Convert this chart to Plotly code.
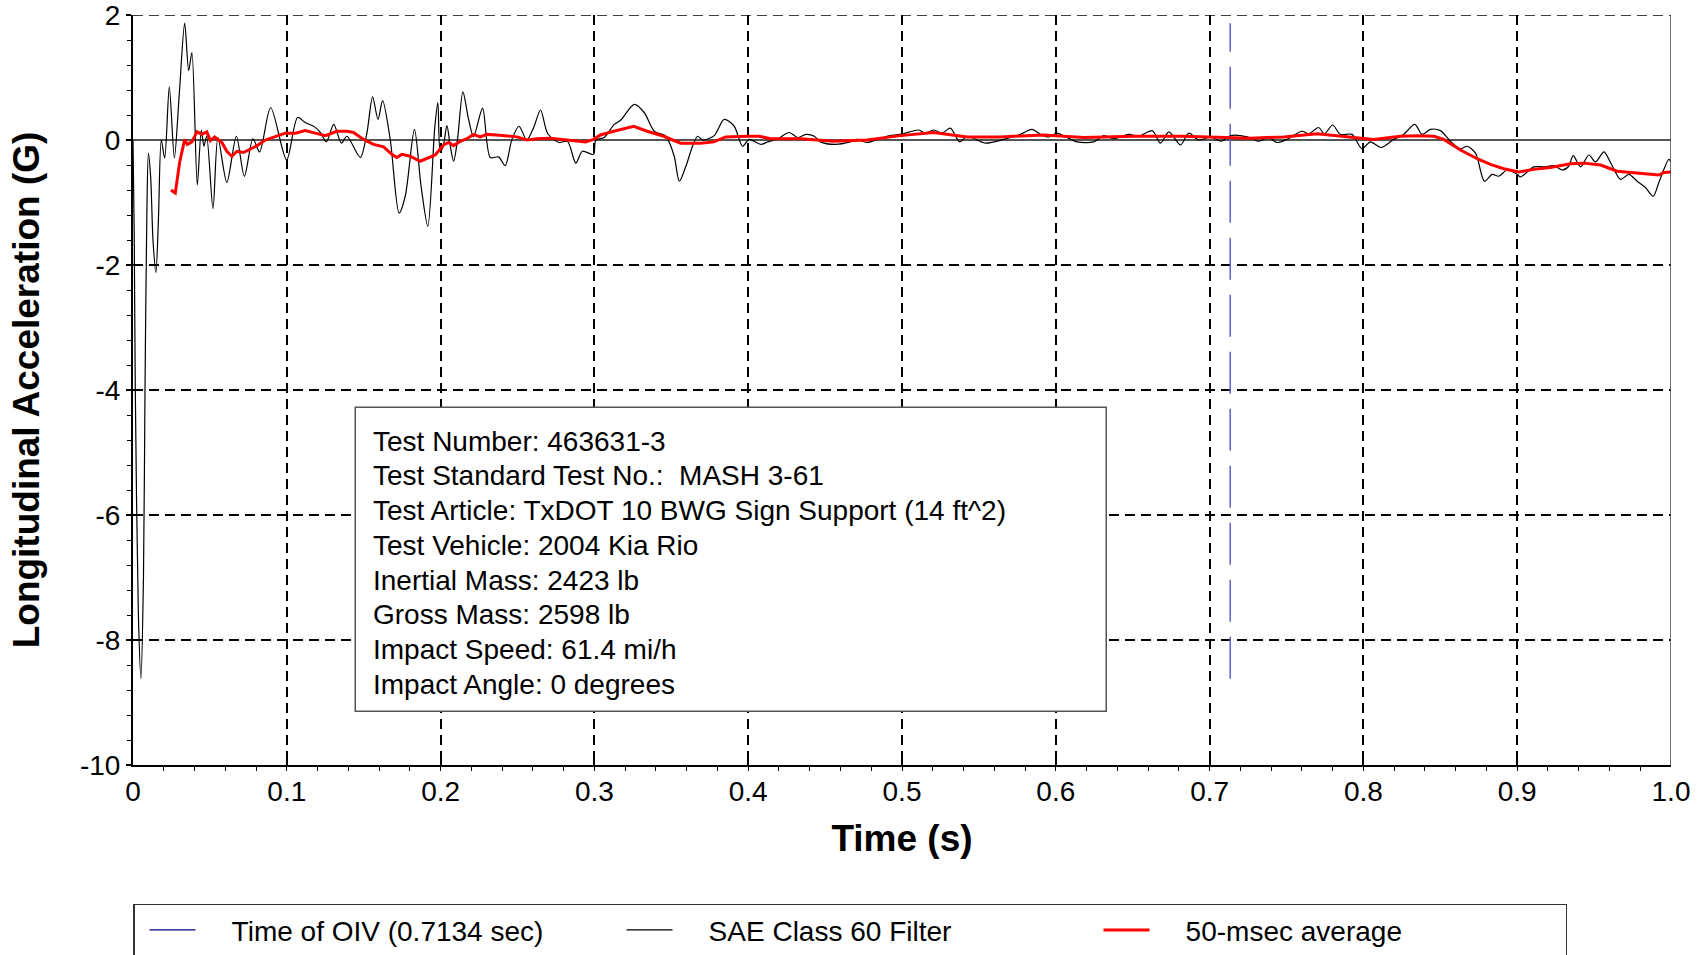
import plotly.graph_objects as go

# ---------------- data ----------------
black_t = [0.0000, 0.0008, 0.0015, 0.0035, 0.0052, 0.0068, 0.0078, 0.0090, 0.0100, 0.0115,
           0.0130, 0.0149, 0.0165, 0.0184, 0.0206, 0.0236, 0.0269, 0.0300, 0.0336, 0.0362,
           0.0383, 0.0418, 0.0444, 0.0461, 0.0479, 0.0520, 0.0552, 0.0610, 0.0672, 0.0724,
           0.0780, 0.0823, 0.0895, 0.0999, 0.1070, 0.1120, 0.1180, 0.1218, 0.1257, 0.1305,
           0.1355, 0.1391, 0.1478, 0.1520, 0.1558, 0.1593, 0.1623, 0.1673, 0.1730, 0.1770,
           0.1830, 0.1873, 0.1917, 0.1962, 0.1982, 0.1998, 0.2015, 0.2041, 0.2063, 0.2085,
           0.2110, 0.2145, 0.2182, 0.2214, 0.2273, 0.2323, 0.2377, 0.2420, 0.2464, 0.2510,
           0.2560, 0.2605, 0.2650, 0.2697, 0.2770, 0.2825, 0.2879, 0.2922, 0.2994, 0.3009,
           0.3064, 0.3129, 0.3172, 0.3259, 0.3324, 0.3389, 0.3465, 0.3519, 0.3552, 0.3595,
           0.3638, 0.3671, 0.3703, 0.3779, 0.3844, 0.3909, 0.3963, 0.4007, 0.4083, 0.4126,
           0.4191, 0.4267, 0.4321, 0.4375, 0.4430, 0.4469, 0.4566, 0.4664, 0.4707, 0.4772,
           0.4902, 0.4989, 0.5108, 0.5152, 0.5206, 0.5260, 0.5314, 0.5375, 0.5423, 0.5542,
           0.5661, 0.5769, 0.5845, 0.5900, 0.5954, 0.6008, 0.6073, 0.6138, 0.6247, 0.6312,
           0.6377, 0.6474, 0.6540, 0.6627, 0.6681, 0.6735, 0.6811, 0.6865, 0.6930, 0.7006,
           0.7076, 0.7136, 0.7245, 0.7319, 0.7384, 0.7438, 0.7503, 0.7601, 0.7644, 0.7709,
           0.7746, 0.7800, 0.7850, 0.7926, 0.7991, 0.8045, 0.8115, 0.8197, 0.8262, 0.8334,
           0.8382, 0.8436, 0.8501, 0.8566, 0.8631, 0.8674, 0.8729, 0.8787, 0.8837, 0.8880,
           0.8935, 0.9000, 0.9021, 0.9108, 0.9173, 0.9238, 0.9292, 0.9335, 0.9364, 0.9412,
           0.9466, 0.9509, 0.9564, 0.9607, 0.9672, 0.9726, 0.9780, 0.9834, 0.9884, 0.9921,
           0.9986, 1.0000]
black_g = [0.00, -1.50, -4.00, -7.60, -8.62, -7.00, -4.00, -1.20, -0.21, -0.60,
           -1.60, -2.12, -1.30, 0.00, -0.29, 0.85, -0.29, 0.70, 1.87, 1.11,
           1.40, -0.72, 0.16, -0.10, 0.06, -1.10, 0.04, -0.68, 0.06, -0.58,
           0.02, -0.19, 0.52, -0.32, 0.36, 0.28, 0.21, 0.12, -0.03, 0.25,
           -0.05, 0.06, -0.28, 0.10, 0.69, 0.33, 0.63, 0.00, -1.17, -0.90,
           0.17, -0.74, -1.38, 0.20, 0.60, -0.18, -0.12, 0.23, -0.10, -0.34,
           0.01, 0.77, 0.33, 0.05, 0.51, -0.28, -0.27, -0.41, 0.01, 0.22,
           0.00, 0.20, 0.48, 0.10, -0.04, -0.02, -0.37, -0.18, -0.23, 0.00,
           0.04, 0.25, 0.32, 0.57, 0.44, 0.14, 0.06, -0.26, -0.66, -0.42,
           -0.10, 0.06, 0.00, 0.07, 0.33, 0.22, -0.10, 0.01, -0.07, -0.03,
           0.02, 0.12, 0.04, 0.09, 0.06, -0.03, -0.07, -0.03, 0.01, -0.04,
           0.06, 0.09, 0.16, 0.11, 0.16, 0.11, 0.19, -0.03, 0.06, -0.05,
           0.01, 0.09, 0.17, 0.09, 0.05, 0.11, 0.04, -0.03, -0.03, 0.07,
           0.02, 0.09, 0.06, 0.15, -0.05, 0.13, -0.08, 0.11, 0.00, 0.05,
           -0.02, 0.07, 0.05, -0.02, 0.04, -0.04, 0.01, 0.14, 0.10, 0.20,
           0.10, 0.24, 0.09, 0.09, -0.14, -0.03, -0.12, 0.01, 0.09, 0.25,
           0.09, 0.17, 0.15, -0.02, -0.14, -0.10, -0.21, -0.66, -0.55, -0.58,
           -0.48, -0.55, -0.59, -0.43, -0.43, -0.41, -0.48, -0.42, -0.25, -0.43,
           -0.24, -0.35, -0.19, -0.36, -0.63, -0.55, -0.66, -0.76, -0.90, -0.68,
           -0.31, -0.35]

avg_t = [0.0247, 0.0275, 0.0303, 0.0336, 0.0353, 0.0383, 0.0416, 0.0448, 0.0480, 0.0503,
         0.0531, 0.0578, 0.0610, 0.0643, 0.0676, 0.0719, 0.0752, 0.0806, 0.0860, 0.0925,
         0.0990, 0.1055, 0.1120, 0.1185, 0.1250, 0.1326, 0.1390, 0.1434, 0.1499, 0.1564,
         0.1629, 0.1683, 0.1715, 0.1748, 0.1802, 0.1867, 0.1911, 0.1965, 0.2019, 0.2052,
         0.2084, 0.2128, 0.2171, 0.2214, 0.2257, 0.2301, 0.2366, 0.2431, 0.2496, 0.2561,
         0.2626, 0.2713, 0.2822, 0.2941, 0.2995, 0.3039, 0.3126, 0.3256, 0.3343, 0.3451,
         0.3560, 0.3690, 0.3777, 0.3853, 0.3994, 0.4070, 0.4146, 0.4341, 0.4556, 0.4772,
         0.4989, 0.5206, 0.5423, 0.5640, 0.5922, 0.6182, 0.6507, 0.6832, 0.7266, 0.7482,
         0.7699, 0.7916, 0.8067, 0.8240, 0.8349, 0.8458, 0.8523, 0.8631, 0.8740, 0.8826,
         0.8913, 0.9010, 0.9108, 0.9216, 0.9346, 0.9433, 0.9542, 0.9650, 0.9759, 0.9921,
         0.9954, 1.0000]
avg_g = [-0.80, -0.85, -0.36, 0.01, -0.07, -0.03, 0.13, 0.09, 0.13, -0.01,
         0.05, -0.04, -0.18, -0.26, -0.18, -0.20, -0.16, -0.09, 0.00, 0.05,
         0.11, 0.11, 0.15, 0.11, 0.07, 0.14, 0.14, 0.12, 0.01, -0.07,
         -0.11, -0.23, -0.28, -0.23, -0.26, -0.34, -0.30, -0.24, -0.08, -0.04,
         -0.09, -0.02, 0.02, 0.09, 0.05, 0.09, 0.08, 0.06, 0.05, 0.00,
         0.02, 0.03, 0.00, -0.03, 0.01, 0.08, 0.14, 0.22, 0.14, 0.06,
         -0.05, -0.05, -0.03, 0.05, 0.06, 0.06, 0.02, 0.02, -0.02, 0.00,
         0.07, 0.12, 0.05, 0.05, 0.08, 0.04, 0.06, 0.06, 0.03, 0.05,
         0.10, 0.05, 0.01, 0.06, 0.07, 0.06, 0.01, -0.16, -0.30, -0.39,
         -0.46, -0.51, -0.47, -0.44, -0.38, -0.37, -0.40, -0.50, -0.52, -0.56,
         -0.52, -0.51]

oiv_time = 0.7134

x_tickvals = [0, 0.1, 0.2, 0.3, 0.4, 0.5, 0.6, 0.7, 0.8, 0.9, 1.0]
x_ticktext = ["0", "0.1", "0.2", "0.3", "0.4", "0.5", "0.6", "0.7", "0.8", "0.9", "1.0"]
y_tickvals = [-10, -8, -6, -4, -2, 0, 2]
y_ticktext = ["-10", "-8", "-6", "-4", "-2", "0", "2"]

info_lines = [
    "Test Number: 463631-3",
    "Test Standard Test No.:  MASH 3-61",
    "Test Article: TxDOT 10 BWG Sign Support (14 ft^2)",
    "Test Vehicle: 2004 Kia Rio",
    "Inertial Mass: 2423 lb",
    "Gross Mass: 2598 lb",
    "Impact Speed: 61.4 mi/h",
    "Impact Angle: 0 degrees",
]

legend_names = ["Time of OIV (0.7134 sec)", "SAE Class 60 Filter", "50-msec average"]

# ---------------- figure ----------------
FONT = "Liberation Sans, Arial, sans-serif"
PAD = "&nbsp;" * 4

fig = go.Figure()

# OIV marker line (drawn in plot), legend entry drawn with a solid navy sample
fig.add_trace(go.Scatter(
    x=[oiv_time, oiv_time], y=[min(black_g), max(black_g)],
    mode="lines", showlegend=False, hoverinfo="skip",
    line=dict(color="#6262c4", width=1.5, dash="42px,15px"),
))
fig.add_trace(go.Scatter(
    x=[None], y=[None], mode="lines", name=PAD + legend_names[0],
    line=dict(color="#000080", width=1.2),
))
fig.add_trace(go.Scatter(
    x=black_t, y=black_g, mode="lines", name=PAD + legend_names[1],
    line=dict(color="black", width=1.2, shape="spline", smoothing=0.8),
))
fig.add_trace(go.Scatter(
    x=avg_t, y=avg_g, mode="lines", name=PAD + legend_names[2],
    line=dict(color="#ff0000", width=3),
))

# info box
fig.add_shape(type="rect", xref="x", yref="y", x0=0.1445, x1=0.6328, y0=-9.14, y1=-4.277,
              line=dict(color="#555555", width=1.5), fillcolor="white", layer="above")
for i, line_txt in enumerate(info_lines):
    fig.add_annotation(
        xref="x", yref="y", x=0.1545, y=-4.82 - i * 0.555, xanchor="left", yanchor="middle",
        text=line_txt, align="left", showarrow=False,
        font=dict(family=FONT, size=28, color="black"),
    )

# top (dashed) and right (solid) frame lines
fig.add_shape(type="line", xref="x", yref="y", x0=0, x1=1.0, y0=2, y1=2,
              line=dict(color="black", width=1.5, dash="10px,6px"), layer="above")
fig.add_shape(type="line", xref="x", yref="y", x0=1.0, x1=1.0, y0=-10, y1=2,
              line=dict(color="#444444", width=1.5), layer="above")

fig.update_layout(
    width=1703, height=955,
    margin=dict(l=133, r=32, t=15, b=190, autoexpand=False),
    paper_bgcolor="white", plot_bgcolor="white",
    font=dict(family=FONT, color="black"),
    showlegend=True,
    legend=dict(
        orientation="h", x=0, xanchor="left", y=-0.185, yanchor="top",
        bordercolor="#333333", borderwidth=1.5, bgcolor="white",
        font=dict(family=FONT, size=28, color="black"),
        entrywidth=406, entrywidthmode="pixels", itemwidth=46,
        indentation=10, tracegroupgap=0,
    ),
    xaxis=dict(
        range=[0, 1.0], tickvals=x_tickvals, ticktext=x_ticktext, automargin=False,
        showgrid=True, gridcolor="black", gridwidth=1.5, griddash="10px,6px",
        showline=True, linecolor="black", linewidth=2,
        ticks="inside", ticklen=10, tickcolor="black", tickwidth=1.5,
        tickfont=dict(family=FONT, size=28, color="black"),
        ticklabeloverflow="allow",
        zeroline=False,
        minor=dict(dtick=0.02, ticks="outside", ticklen=4, tickcolor="black", tickwidth=1, showgrid=False),
        title=dict(text="<b>Time (s)</b>", font=dict(family=FONT, size=37, color="black"), standoff=20),
    ),
    yaxis=dict(
        range=[-10, 2], tickvals=y_tickvals, ticktext=y_ticktext, automargin=False,
        showgrid=True, gridcolor="black", gridwidth=1.5, griddash="10px,6px",
        showline=True, linecolor="black", linewidth=2,
        ticks="outside", ticklen=5, tickcolor="black", tickwidth=1.5,
        tickfont=dict(family=FONT, size=28, color="black"),
        ticklabeloverflow="allow",
        zeroline=True, zerolinecolor="#555555", zerolinewidth=1.5,
        minor=dict(dtick=0.4, ticks="outside", ticklen=4, tickcolor="black", tickwidth=1, showgrid=False),
        title=dict(text="<b>Longitudinal Acceleration (G)</b>", font=dict(family=FONT, size=37, color="black"), standoff=29),
    ),
)

# remove the default 8px page margin so the figure sits at the window's top-left corner
fig.write_html("out.html", config={"displayModeBar": False},
               post_script="document.body.style.margin='0px';")
